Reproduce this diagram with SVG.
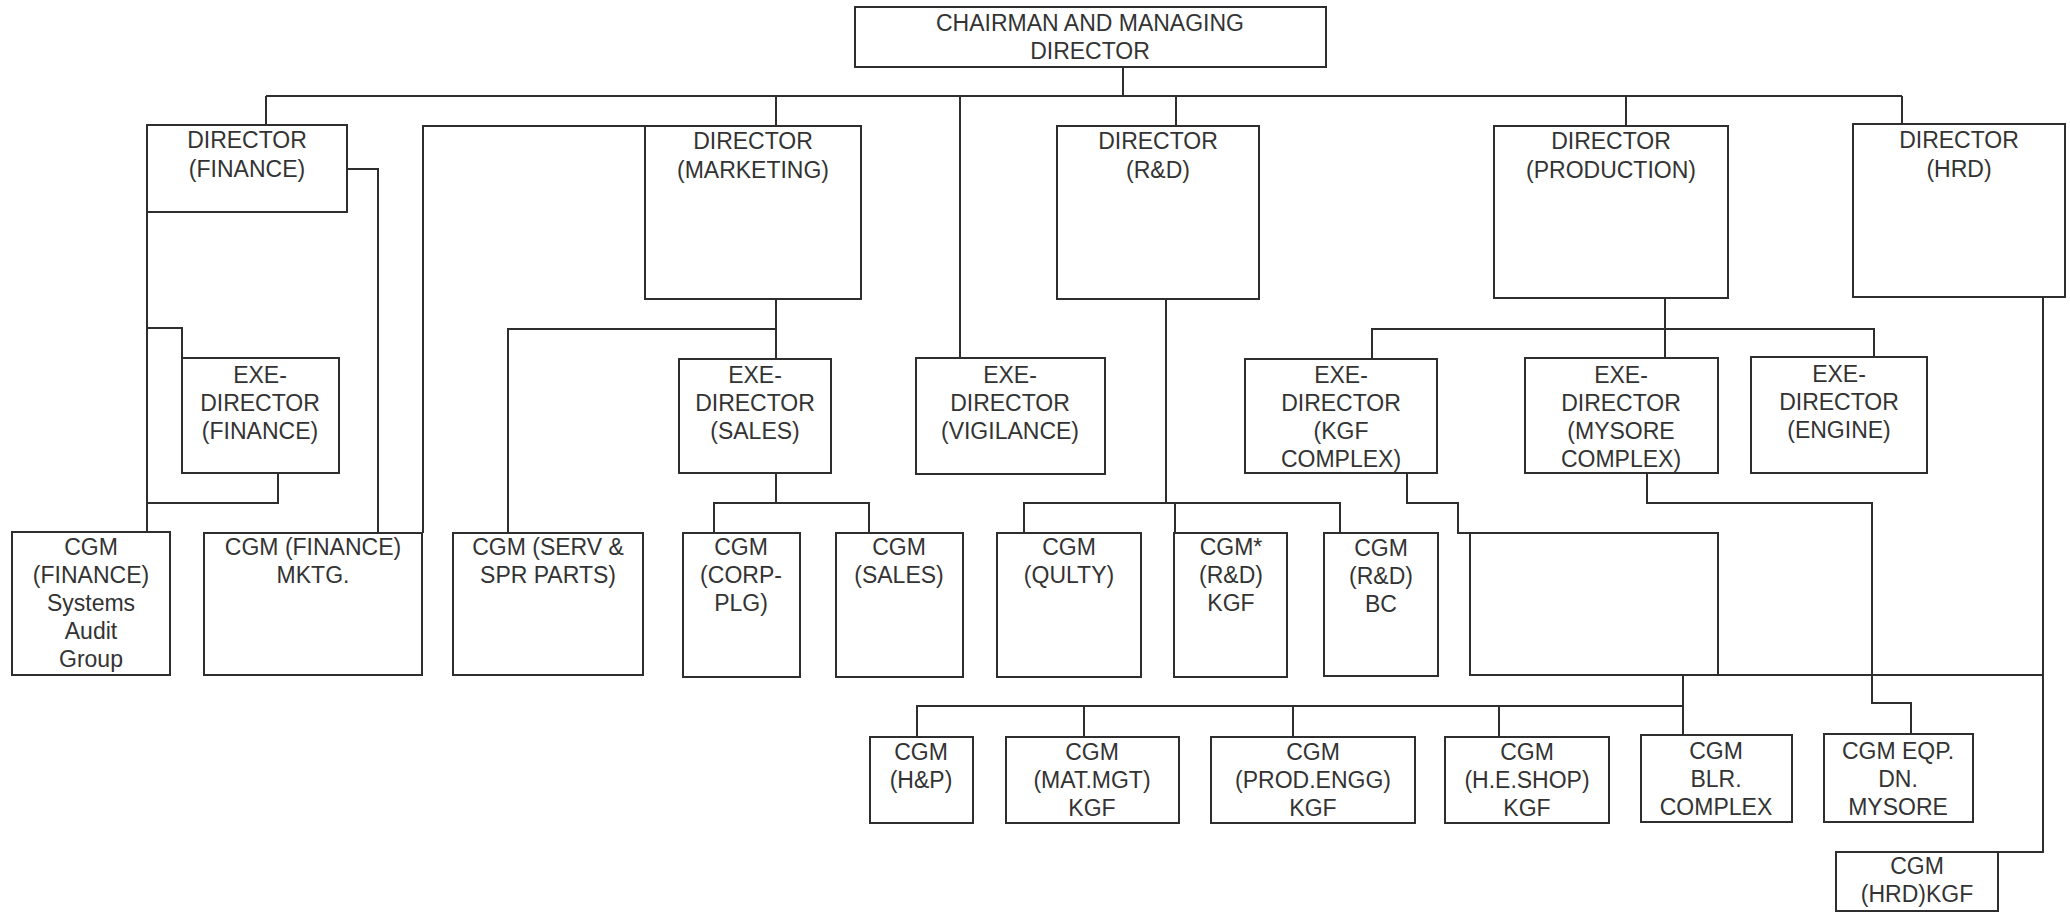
<svg xmlns="http://www.w3.org/2000/svg" width="2070" height="913" viewBox="0 0 2070 913">
<style>
.box{fill:#fff;stroke:#2e2e2e;stroke-width:2}
.ln{fill:none;stroke:#2e2e2e;stroke-width:2}
text{font-family:"Liberation Sans",Arial,sans-serif;font-size:23px;fill:#333;text-anchor:middle}
</style>
<rect width="2070" height="913" fill="#fff"/>
<g id="connectors">
<path class="ln" d="M266 96H1902"/>
<path class="ln" d="M1123 67V96"/>
<path class="ln" d="M266 96V125"/>
<path class="ln" d="M776 96V126"/>
<path class="ln" d="M960 96V358"/>
<path class="ln" d="M1176 96V126"/>
<path class="ln" d="M1626 96V126"/>
<path class="ln" d="M1902 96V124"/>
<path class="ln" d="M347 169H378V533"/>
<path class="ln" d="M645 126H423V533"/>
<path class="ln" d="M147 212V532"/>
<path class="ln" d="M147 328H182V358"/>
<path class="ln" d="M278 473V503H147"/>
<path class="ln" d="M776 299V359"/>
<path class="ln" d="M508 533V329H776"/>
<path class="ln" d="M776 473V503"/>
<path class="ln" d="M714 533V503H869V533"/>
<path class="ln" d="M1166 299V503"/>
<path class="ln" d="M1024 533V503H1340V533"/>
<path class="ln" d="M1175 503V533"/>
<path class="ln" d="M1665 298V358"/>
<path class="ln" d="M1372 359V329H1874V357"/>
<path class="ln" d="M1407 473V503H1458V533H1470"/>
<path class="ln" d="M1647 473V503H1872V703H1911V734"/>
<path class="ln" d="M1718 675H2043"/>
<path class="ln" d="M2043 297V852H1998"/>
<path class="ln" d="M1683 675V735"/>
<path class="ln" d="M917 737V706H1683"/>
<path class="ln" d="M1084 706V737"/>
<path class="ln" d="M1293 706V737"/>
<path class="ln" d="M1499 706V737"/>
</g>
<g id="chairman"><rect class="box" x="855" y="7" width="471" height="60"/><text x="1090" y="31">CHAIRMAN AND MANAGING</text><text x="1090" y="59">DIRECTOR</text></g>
<g id="dir-finance"><rect class="box" x="147" y="125" width="200" height="87"/><text x="247" y="148">DIRECTOR</text><text x="247" y="177">(FINANCE)</text></g>
<g id="dir-marketing"><rect class="box" x="645" y="126" width="216" height="173"/><text x="753" y="149">DIRECTOR</text><text x="753" y="178">(MARKETING)</text></g>
<g id="dir-rd"><rect class="box" x="1057" y="126" width="202" height="173"/><text x="1158" y="149">DIRECTOR</text><text x="1158" y="178">(R&amp;D)</text></g>
<g id="dir-production"><rect class="box" x="1494" y="126" width="234" height="172"/><text x="1611" y="149">DIRECTOR</text><text x="1611" y="178">(PRODUCTION)</text></g>
<g id="dir-hrd"><rect class="box" x="1853" y="124" width="212" height="173"/><text x="1959" y="148">DIRECTOR</text><text x="1959" y="177">(HRD)</text></g>
<g id="exe-finance"><rect class="box" x="182" y="358" width="157" height="115"/><text x="260" y="383">EXE-</text><text x="260" y="411">DIRECTOR</text><text x="260" y="439">(FINANCE)</text></g>
<g id="exe-sales"><rect class="box" x="679" y="359" width="152" height="114"/><text x="755" y="383">EXE-</text><text x="755" y="411">DIRECTOR</text><text x="755" y="439">(SALES)</text></g>
<g id="exe-vigilance"><rect class="box" x="916" y="358" width="189" height="116"/><text x="1010" y="383">EXE-</text><text x="1010" y="411">DIRECTOR</text><text x="1010" y="439">(VIGILANCE)</text></g>
<g id="exe-kgf"><rect class="box" x="1245" y="359" width="192" height="114"/><text x="1341" y="383">EXE-</text><text x="1341" y="411">DIRECTOR</text><text x="1341" y="439">(KGF</text><text x="1341" y="467">COMPLEX)</text></g>
<g id="exe-mysore"><rect class="box" x="1525" y="358" width="193" height="115"/><text x="1621" y="383">EXE-</text><text x="1621" y="411">DIRECTOR</text><text x="1621" y="439">(MYSORE</text><text x="1621" y="467">COMPLEX)</text></g>
<g id="exe-engine"><rect class="box" x="1751" y="357" width="176" height="116"/><text x="1839" y="382">EXE-</text><text x="1839" y="410">DIRECTOR</text><text x="1839" y="438">(ENGINE)</text></g>
<g id="cgm-finance-sag"><rect class="box" x="12" y="532" width="158" height="143"/><text x="91" y="555">CGM</text><text x="91" y="583">(FINANCE)</text><text x="91" y="611">Systems</text><text x="91" y="639">Audit</text><text x="91" y="667">Group</text></g>
<g id="cgm-finance-mktg"><rect class="box" x="204" y="533" width="218" height="142"/><text x="313" y="555">CGM (FINANCE)</text><text x="313" y="583">MKTG.</text></g>
<g id="cgm-serv"><rect class="box" x="453" y="533" width="190" height="142"/><text x="548" y="555">CGM (SERV &amp;</text><text x="548" y="583">SPR PARTS)</text></g>
<g id="cgm-corp-plg"><rect class="box" x="683" y="533" width="117" height="144"/><text x="741" y="555">CGM</text><text x="741" y="583">(CORP-</text><text x="741" y="611">PLG)</text></g>
<g id="cgm-sales"><rect class="box" x="836" y="533" width="127" height="144"/><text x="899" y="555">CGM</text><text x="899" y="583">(SALES)</text></g>
<g id="cgm-qulty"><rect class="box" x="997" y="533" width="144" height="144"/><text x="1069" y="555">CGM</text><text x="1069" y="583">(QULTY)</text></g>
<g id="cgm-rd-kgf"><rect class="box" x="1174" y="533" width="113" height="144"/><text x="1231" y="555">CGM*</text><text x="1231" y="583">(R&amp;D)</text><text x="1231" y="611">KGF</text></g>
<g id="cgm-rd-bc"><rect class="box" x="1324" y="533" width="114" height="143"/><text x="1381" y="556">CGM</text><text x="1381" y="584">(R&amp;D)</text><text x="1381" y="612">BC</text></g>
<g id="blank-box"><rect class="box" x="1470" y="533" width="248" height="142"/></g>
<g id="cgm-hp"><rect class="box" x="870" y="737" width="103" height="86"/><text x="921" y="760">CGM</text><text x="921" y="788">(H&amp;P)</text></g>
<g id="cgm-matmgt"><rect class="box" x="1006" y="737" width="173" height="86"/><text x="1092" y="760">CGM</text><text x="1092" y="788">(MAT.MGT)</text><text x="1092" y="816">KGF</text></g>
<g id="cgm-prodengg"><rect class="box" x="1211" y="737" width="204" height="86"/><text x="1313" y="760">CGM</text><text x="1313" y="788">(PROD.ENGG)</text><text x="1313" y="816">KGF</text></g>
<g id="cgm-heshop"><rect class="box" x="1445" y="737" width="164" height="86"/><text x="1527" y="760">CGM</text><text x="1527" y="788">(H.E.SHOP)</text><text x="1527" y="816">KGF</text></g>
<g id="cgm-blr"><rect class="box" x="1641" y="735" width="151" height="87"/><text x="1716" y="759">CGM</text><text x="1716" y="787">BLR.</text><text x="1716" y="815">COMPLEX</text></g>
<g id="cgm-eqp"><rect class="box" x="1824" y="734" width="149" height="88"/><text x="1898" y="759">CGM EQP.</text><text x="1898" y="787">DN.</text><text x="1898" y="815">MYSORE</text></g>
<g id="cgm-hrd-kgf"><rect class="box" x="1836" y="852" width="162" height="59"/><text x="1917" y="874">CGM</text><text x="1917" y="902">(HRD)KGF</text></g>
</svg>
